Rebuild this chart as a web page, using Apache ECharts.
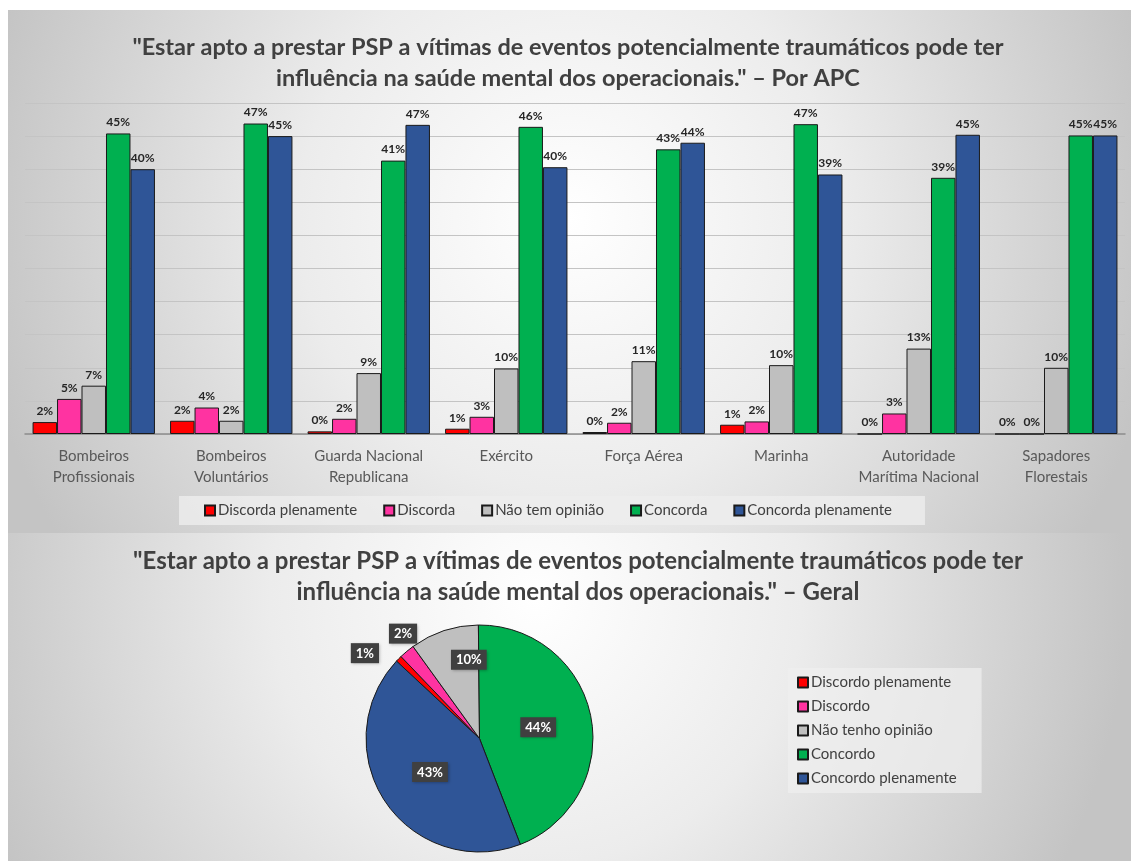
<!DOCTYPE html>
<html>
<head>
<meta charset="utf-8">
<script src="https://cdn.jsdelivr.net/npm/echarts@6/dist/echarts.min.js"></script>
<style>
html,body{margin:0;padding:0;background:#fff;}
#chart{width:1131px;height:861px;}
</style>
</head>
<body>
<div id="chart"></div>
<script>
const titleTop = '"Estar apto a prestar PSP a vítimas de eventos potencialmente traumáticos pode ter\ninfluência na saúde mental dos operacionais." – Por APC';
const titleBottom = '"Estar apto a prestar PSP a vítimas de eventos potencialmente traumáticos pode ter\ninfluência na saúde mental dos operacionais." – Geral';

const categories = ['Bombeiros\nProfissionais', 'Bombeiros\nVoluntários', 'Guarda Nacional\nRepublicana', 'Exército', 'Força Aérea', 'Marinha', 'Autoridade\nMarítima Nacional', 'Sapadores\nFlorestais'];
const barNames = ['Discorda plenamente', 'Discorda', 'Não tem opinião', 'Concorda', 'Concorda plenamente'];
const discordaPlenamente = [1.8, 2.0, 0.4, 0.8, 0.3, 1.4, 0, 0];
const discorda = [5.3, 4.0, 2.3, 2.6, 1.7, 1.9, 3.1, 0];
const naoTemOpiniao = [7.3, 2.0, 9.2, 9.9, 11.0, 10.4, 12.9, 10.0];
const concorda = [45.4, 46.9, 41.3, 46.4, 43.0, 46.8, 38.7, 45.1];
const concordaPlenamente = [40.0, 45.0, 46.7, 40.3, 44.0, 39.2, 45.2, 45.1];

const pieNames = ['Discordo plenamente', 'Discordo', 'Não tenho opinião', 'Concordo', 'Concordo plenamente'];
const pieValues = [0.9, 2.2, 9.8, 44.3, 42.8];

const colors = ['#ff0000', '#ff33a1', '#bfbfbf', '#00b050', '#2f5597'];
const FONT = 'Lato';

const barSeriesData = [discordaPlenamente, discorda, naoTemOpiniao, concorda, concordaPlenamente];

const barSeries = barSeriesData.map((arr, i) => ({
  name: barNames[i],
  type: 'bar',
  data: arr,
  barGap: '0%',
  barCategoryGap: '11%',
  itemStyle: { color: colors[i], borderColor: '#1a1a1a', borderWidth: 1 },
  label: {
    show: true, position: 'top', distance: 5,
    fontFamily: FONT, fontSize: 12, fontWeight: 'bold', color: '#262626',
    formatter: p => Math.round(p.value) + '%'
  },
  z: 3
}));

// label placement tweaks for the pie (layout only)
const pieLabelLine = [
  { show: false, length: 8, length2: 14 },
  { show: false, length: 23, length2: -25 },
  { show: false }, { show: false }, { show: false }
];
const pieData = pieValues.map((v, i) => ({
  name: pieNames[i],
  value: v,
  itemStyle: { color: colors[i] },
  label: { position: i < 2 ? 'outside' : 'inside' },
  labelLine: pieLabelLine[i]
}));

const boxStyle = { backgroundColor: '#404040', color: '#ffffff', padding: [4, 5, 3, 5],
  fontFamily: FONT, fontSize: 13, fontWeight: 'bold',
  shadowColor: 'rgba(0,0,0,0.3)', shadowBlur: 3, shadowOffsetX: 1, shadowOffsetY: 1 };

const chart = echarts.init(document.getElementById('chart'));
chart.setOption({
  animation: false,
  graphic: [
    { type: 'rect', z: -100, shape: { x: 8, y: 10, width: 1123, height: 523 },
      style: { fill: { type: 'radial', x: 0.5, y: 0.4, r: 1.15,
        colorStops: [{ offset: 0, color: '#ffffff' }, { offset: 0.45, color: '#ececec' }, { offset: 1, color: '#c4c4c4' }] } } },
    { type: 'rect', z: -100, shape: { x: 8, y: 533, width: 1123, height: 328 },
      style: { fill: { type: 'radial', x: 0.47, y: 0.2, r: 1.8,
        colorStops: [{ offset: 0, color: '#ffffff' }, { offset: 0.45, color: '#ececec' }, { offset: 1, color: '#c4c4c4' }] } } }
  ],
  title: [
    { text: titleTop, left: 563, top: 27, textAlign: 'center',
      textStyle: { fontFamily: FONT, fontSize: 23.5, fontWeight: 'bold', color: '#404040', lineHeight: 31 } },
    { text: titleBottom, left: 573, top: 541, textAlign: 'center',
      textStyle: { fontFamily: FONT, fontSize: 24, fontWeight: 'bold', color: '#404040', lineHeight: 31 } }
  ],
  legend: [
    { data: barNames, left: 179, top: 496, itemWidth: 10, itemHeight: 10, itemGap: 26,
      padding: [7, 33, 7, 25], backgroundColor: 'rgba(238,238,238,0.8)',
      icon: 'rect',
      textStyle: { fontFamily: FONT, fontSize: 15, color: '#404040', padding: [0, 0, 0, -2] } },
    { data: pieNames, orient: 'vertical', left: 788, top: 668, itemWidth: 10, itemHeight: 10, itemGap: 9,
      padding: [7, 25, 7, 9], backgroundColor: 'rgba(240,240,240,0.7)',
      icon: 'rect',
      textStyle: { fontFamily: FONT, fontSize: 15, color: '#404040', padding: [0, 0, 0, -2] } }
  ],
  grid: { left: 25, right: 6, top: 103, height: 331, containLabel: false },
  xAxis: {
    type: 'category', data: categories,
    axisLine: { show: true, lineStyle: { color: '#8c8c8c', width: 1.5 } },
    axisTick: { show: false },
    axisLabel: { interval: 0, fontFamily: FONT, fontSize: 15, color: '#595959', lineHeight: 21, margin: 12 }
  },
  yAxis: {
    type: 'value', min: 0, max: 50, interval: 5,
    axisLabel: { show: false }, axisLine: { show: false }, axisTick: { show: false },
    splitLine: { lineStyle: { color: '#c4c4c4', width: 1.2 } }
  },
  series: barSeries.concat([{
    name: 'Geral',
    type: 'pie',
    center: [479.5, 738.5],
    radius: 113.5,
    startAngle: 137,
    clockwise: true,
    avoidLabelOverlap: false,
    legendHoverLink: false,
    itemStyle: { borderColor: '#1a1a1a', borderWidth: 1 },
    label: {
      show: true, distanceToLabelLine: 0,
      formatter: p => p.dataIndex === 2
        ? '{h|}{a|' + Math.round(p.value) + '%}\n{s|}'
        : '{a|' + Math.round(p.value) + '%}',
      rich: { a: boxStyle, h: { width: 16 }, s: { height: 44 } }
    },
    labelLayout: { hideOverlap: false },
    data: pieData
  }])
});
</script>
</body>
</html>
